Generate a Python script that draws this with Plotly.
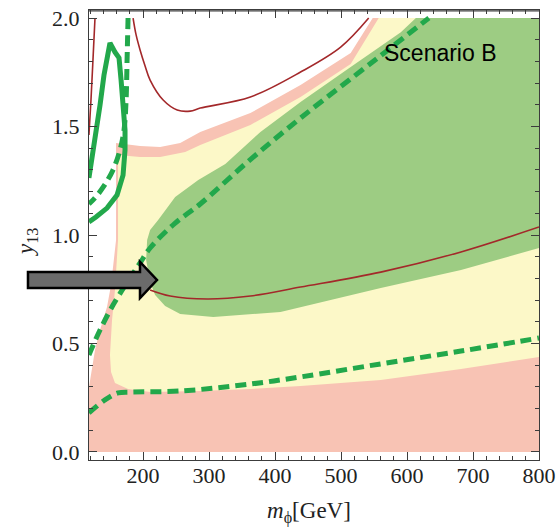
import plotly.graph_objects as go

# ---------------- data ----------------
# m_phi [GeV], y13
pink_x = [118, 121, 122.5, 127.1, 134.7, 145.3, 151.4, 155.9, 159.0, 159.0, 195.4, 225.8, 256.2, 286.6,
          362.6, 438.6, 514.6, 548.0, 800, 800, 118]
pink_y = [0.30, 0.35, 0.378, 0.470, 0.562, 0.668, 0.770, 0.885, 0.977, 1.424, 1.410, 1.406, 1.424, 1.475,
          1.562, 1.691, 1.839, 2.0, 2.0, 0.0, 0.0]

yellow_x = [162.0, 195.4, 225.8, 263.8, 286.6, 362.6, 438.6, 514.6, 557.1, 800, 800,
            681.8, 560.2, 438.6, 362.6, 286.6, 210.6, 177.2, 157.4, 151.4, 149.8, 152.9, 157.4, 160.5, 162.0]
yellow_y = [1.369, 1.359, 1.359, 1.382, 1.415, 1.507, 1.636, 1.788, 2.0, 2.0, 0.438,
            0.382, 0.332, 0.304, 0.290, 0.281, 0.276, 0.290, 0.318, 0.369, 0.447, 0.608, 0.747, 0.885, 0.977]

green_x = [206.1, 210.6, 222.8, 248.6, 283.6, 324.6, 377.8, 438.6, 514.6, 590.6, 613.4, 800, 800,
           681.8, 560.2, 408.2, 306.4, 256.2, 233.4, 218.2, 210.6, 204.6, 206.1]
green_y = [0.977, 1.023, 1.069, 1.175, 1.253, 1.327, 1.475, 1.613, 1.774, 1.935, 2.0, 2.0, 0.940,
           0.839, 0.756, 0.645, 0.622, 0.636, 0.673, 0.724, 0.783, 0.885, 0.977]

solid_x = [117.9, 127.1, 134.7, 140.7, 146.8, 149.8, 157.4, 163.5, 166.6, 169.6, 172.6, 172.6, 169.6,
           160.5, 145.3, 128.6, 117.9]
solid_y = [1.263, 1.438, 1.599, 1.737, 1.862, 1.885, 1.843, 1.816, 1.714, 1.599, 1.484, 1.392, 1.276,
           1.184, 1.124, 1.083, 1.060]

dash_steep_x = [177.2, 175.7, 174.2, 171.1, 165.0, 154.4, 140.7, 127.1, 117.9]
dash_steep_y = [2.0, 1.806, 1.622, 1.484, 1.392, 1.300, 1.226, 1.171, 1.143]

dash_diag_x = [117.9, 134.7, 154.4, 177.2, 195.4, 210.6, 248.6, 286.6, 358.1, 438.6, 555.6, 633.1]
dash_diag_y = [0.447, 0.562, 0.677, 0.788, 0.871, 0.940, 1.055, 1.143, 1.336, 1.539, 1.816, 2.0]

dash_low_x = [117.9, 142.2, 162.0, 180.2, 256.2, 362.6, 438.6, 560.2, 681.8, 800]
dash_low_y = [0.180, 0.240, 0.272, 0.276, 0.281, 0.313, 0.346, 0.406, 0.465, 0.525]

red_upper_x = [184.8, 189.4, 195.4, 203.0, 210.6, 230.4, 251.7, 271.4, 286.6, 362.6, 438.6, 499.4, 541.9]
red_upper_y = [2.0, 1.922, 1.853, 1.779, 1.714, 1.622, 1.576, 1.571, 1.585, 1.636, 1.751, 1.866, 2.0]

red_lower_x = [210.6, 241.0, 297.3, 362.6, 438.6, 560.2, 681.8, 800]
red_lower_y = [0.747, 0.719, 0.705, 0.719, 0.760, 0.829, 0.922, 1.037]

red_edge_x = [117.9, 121.0, 124.0, 127.1]
red_edge_y = [1.461, 1.622, 1.806, 2.0]

x_ticks = [200, 300, 400, 500, 600, 700, 800]
y_ticks = [0.0, 0.5, 1.0, 1.5, 2.0]

# ---------------- styles ----------------
PINK = "#f8c3b4"
YELLOW = "#fcf8c8"
GREEN = "#9dcc83"
LGREEN = "#22a84b"
RED = "#a3282a"
FRAME = "#3c3c3c"
SERIF = "Liberation Serif"

fig = go.Figure()

for xs, ys, col in [(pink_x, pink_y, PINK), (yellow_x, yellow_y, YELLOW), (green_x, green_y, GREEN)]:
    fig.add_trace(go.Scatter(x=xs, y=ys, mode="lines", fill="toself", fillcolor=col,
                             line=dict(width=0, color=col), hoverinfo="skip", showlegend=False))

for xs, ys in [(red_upper_x, red_upper_y), (red_lower_x, red_lower_y), (red_edge_x, red_edge_y)]:
    fig.add_trace(go.Scatter(x=xs, y=ys, mode="lines", line=dict(color=RED, width=1.6, shape="spline"),
                             hoverinfo="skip", showlegend=False))

fig.add_trace(go.Scatter(x=solid_x, y=solid_y, mode="lines", line=dict(color=LGREEN, width=5),
                         hoverinfo="skip", showlegend=False))

for xs, ys in [(dash_steep_x, dash_steep_y), (dash_diag_x, dash_diag_y), (dash_low_x, dash_low_y)]:
    fig.add_trace(go.Scatter(x=xs, y=ys, mode="lines",
                             line=dict(color=LGREEN, width=5, dash="11px,6px", shape="spline"),
                             hoverinfo="skip", showlegend=False))

# arrow (annotation graphic, paper coordinates)
fig.add_shape(type="path", xref="paper", yref="paper",
              path="M -0.1356 0.4178 L 0.1133 0.4178 L 0.1133 0.4400 L 0.1511 0.4000 "
                   "L 0.1133 0.3600 L 0.1133 0.3822 L -0.1356 0.3822 Z",
              fillcolor="#6b6b6b", line=dict(color="black", width=2.5), layer="above")
# explicit top edge of the frame
fig.add_shape(type="line", xref="paper", yref="paper", x0=0, x1=1, y0=0.998, y1=0.998,
              line=dict(color=FRAME, width=1.4), layer="above")

fig.add_annotation(text="Scenario B", xref="paper", yref="paper", x=(440 - 89) / 450, y=(460 - 53) / 450,
                   xanchor="center", yanchor="middle", showarrow=False,
                   font=dict(family="Liberation Sans", size=23, color="black"))
fig.add_annotation(text="<i>m</i><sub>ϕ</sub>[GeV]", xref="paper", yref="paper",
                   x=(309 - 89) / 450, y=(460 - 512) / 450, xanchor="center", yanchor="middle",
                   showarrow=False, font=dict(family=SERIF, size=23, color="#222"))
fig.add_annotation(text="<i>y</i><sub>13</sub>", xref="paper", yref="paper",
                   x=(27 - 89) / 450, y=(460 - 242) / 450, xanchor="center", yanchor="middle",
                   showarrow=False, textangle=-90,
                   font=dict(family=SERIF, size=23, color="#222"))

axis_common = dict(showline=True, linecolor=FRAME, linewidth=1.2, mirror="allticks", ticks="inside",
                   tickcolor=FRAME, ticklen=8, tickwidth=1, showgrid=False, zeroline=False,
                   automargin=False, ticklabeloverflow="allow",
                   tickfont=dict(family=SERIF, size=22, color="#222"))

fig.update_xaxes(range=[118, 800], tickvals=x_ticks, ticklabelstandoff=-5,
                 minor=dict(ticks="inside", dtick=20, tick0=0, ticklen=4, tickcolor=FRAME, showgrid=False),
                 **axis_common)
fig.update_yaxes(range=[-0.037, 2.037], tickvals=y_ticks, tickformat=".1f", ticklabelstandoff=4,
                 minor=dict(ticks="inside", dtick=0.1, tick0=0, ticklen=4, tickcolor=FRAME, showgrid=False),
                 **axis_common)

fig.update_layout(width=556, height=528, margin=dict(l=89, r=17, t=10, b=68, autoexpand=False),
                  plot_bgcolor="white", paper_bgcolor="white", showlegend=False)

# remove the browser's default 8 px page margin so the figure sits at the window origin
fig.write_html("out.html", config={"displayModeBar": False},
               post_script="document.body.style.margin='0';document.body.style.overflow='hidden';")
